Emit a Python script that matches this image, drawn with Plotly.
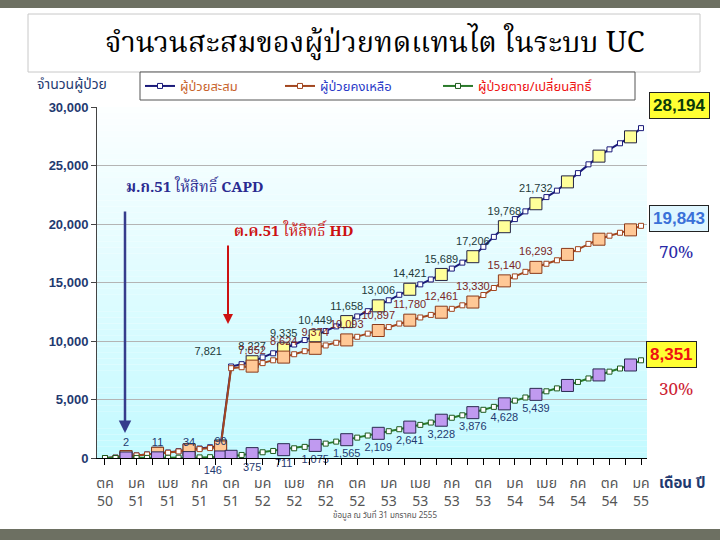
import plotly.graph_objects as go

# ---------------- data ----------------
months = list(range(52))  # ต.ค. 50 ... ม.ค. 55 (monthly)
tick_pos = [0, 3, 6, 9, 12, 15, 18, 21, 24, 27, 30, 33, 36, 39, 42, 45, 48, 51]
tick_labels = ["ตค<br>50", "มค<br>51", "เมย<br>51", "กค<br>51", "ตค<br>51", "มค<br>52",
               "เมย<br>52", "กค<br>52", "ตค<br>52", "มค<br>53", "เมย<br>53", "กค<br>53",
               "ตค<br>53", "มค<br>54", "เมย<br>54", "กค<br>54", "ตค<br>54", "มค<br>55"]

cumulative = [0, 30, 122, 225, 308, 411, 468, 586, 714, 810, 920, 1030,
              7821, 8020, 8227, 8600, 8950, 9335, 9700, 10080, 10449, 10850, 11250, 11658,
              12100, 12550, 13006, 13480, 13950, 14421, 14840, 15260, 15689, 16190, 16700, 17206,
              18050, 18900, 19768, 20420, 21080, 21732, 22300, 22850, 23600, 24350, 25100, 25800,
              26380, 26900, 27450, 28194]
remaining = [0, 30, 120, 220, 300, 400, 450, 560, 680, 760, 850, 940,
             7675, 7760, 7852, 8110, 8350, 8624, 8870, 9130, 9374, 9620, 9850, 10093,
             10360, 10630, 10897, 11190, 11490, 11780, 12010, 12230, 12461, 12750, 13050, 13330,
             13930, 14530, 15140, 15520, 15910, 16293, 16600, 16900, 17400, 17850, 18300, 18700,
             19000, 19250, 19500, 19843]
dead_changed = [0, 0, 2, 5, 8, 11, 18, 26, 34, 50, 70, 90,
                146, 260, 375, 490, 600, 711, 830, 950, 1075, 1230, 1400, 1565,
                1740, 1920, 2109, 2290, 2460, 2641, 2830, 3030, 3228, 3440, 3650, 3876,
                4120, 4370, 4628, 4900, 5170, 5439, 5700, 5950, 6200, 6500, 6800, 7100,
                7380, 7650, 7950, 8351]

quarter_idx = [2, 5, 8, 11, 14, 17, 20, 23, 26, 29, 32, 35, 38, 41, 44, 47, 50]
dead_big_idx = [2, 5, 8, 11, 12, 14, 17, 20, 23, 26, 29, 32, 35, 38, 41, 44, 47, 50]

cum_label_idx = [14, 17, 20, 23, 26, 29, 32, 35, 38, 41]
rem_label_idx = [14, 17, 20, 23, 26, 29, 32, 35, 38, 41]
dead_top_idx = [2, 5, 8, 11]
dead_bottom_idx = [14, 17, 20, 23, 26, 29, 32, 35, 38, 41]
cum_left_idx = [12]
dead_left_idx = [12]

names = ["ผู้ป่วยสะสม", "ผู้ป่วยคงเหลือ", "ผู้ป่วยตาย/เปลี่ยนสิทธิ์"]

# ---------------- styling ----------------
NAVY = "#1a1a7a"
BROWN = "#a2461f"
GREEN = "#2a7a2a"
THAI = "Noto Sans Thai, Tahoma, DejaVu Sans, sans-serif"
SERIF = "Noto Serif Thai, Liberation Serif, serif"
LBL = "Liberation Sans, Arial, sans-serif"

X0, X1, YT, YB = 97, 647, 107, 458


def px(xp):
    return (xp - X0) / (X1 - X0)


def py(yp):
    return (YB - yp) / (YB - YT)


fig = go.Figure()


def add_series(vals, big_idx, color, small_border, big_fill, big_border, name, legcolor, leg):
    fig.add_trace(go.Scatter(
        x=months, y=vals, mode="lines+markers", name=f"<span style='color:{legcolor}'>{name}</span>",
        line=dict(color=color, width=2), legend=leg,
        marker=dict(symbol="square", size=5, color="white", line=dict(color=small_border, width=1)),
        hoverinfo="skip"))
    fig.add_trace(go.Scatter(
        x=[months[i] for i in big_idx], y=[vals[i] for i in big_idx], mode="markers",
        showlegend=False,
        marker=dict(symbol="square", size=12, color=big_fill, line=dict(color=big_border, width=1)),
        hoverinfo="skip"))


def add_labels(vals, idx, pos, color):
    fig.add_trace(go.Scatter(
        x=[months[i] for i in idx], y=[vals[i] for i in idx], mode="markers+text",
        text=[f"{vals[i]:,}" for i in idx], textposition=pos, cliponaxis=False,
        textfont=dict(family=LBL, size=11, color=color),
        marker=dict(size=13, color="rgba(0,0,0,0)"), showlegend=False, hoverinfo="skip"))


add_series(cumulative, quarter_idx, NAVY, NAVY, "#ffff99", "#222244", names[0], "#c8642d", "legend")
add_series(remaining, quarter_idx, BROWN, BROWN, "#ffc896", "#8a3a1a", names[1], "#2a3ac8", "legend2")
add_series(dead_changed, dead_big_idx, GREEN, "#1f5a1f", "#c09af0", "#2a2a50", names[2], "#ee1111", "legend3")

add_labels(cumulative, cum_label_idx, "top center", "#1e3a3a")
add_labels(cumulative, cum_left_idx, "top left", "#1e3a3a")
add_labels(remaining, rem_label_idx, "top center", "#7a2626")
add_labels(dead_changed, dead_top_idx, "top center", "#1f3a70")
add_labels(dead_changed, dead_bottom_idx, "bottom center", "#1f3a70")
add_labels(dead_changed, dead_left_idx, "bottom left", "#1f3a70")

shapes = []
# gradient plot background
nb = 60
for k in range(nb):
    t = k / (nb - 1)
    r = int(252 - (252 - 196) * t)
    g = int(255 - (255 - 250) * t)
    b = 255
    shapes.append(dict(type="rect", xref="x domain", yref="y domain", x0=0, x1=1,
                       y0=1 - (k + 1) / nb, y1=1 - k / nb, line=dict(width=0),
                       fillcolor=f"rgb({r},{g},{b})", layer="below"))
# slide frame bars
shapes.append(dict(type="rect", xref="paper", yref="paper", x0=px(0), x1=px(720), y0=py(8), y1=py(0),
                   fillcolor="#6d7062", line=dict(width=0)))
shapes.append(dict(type="rect", xref="paper", yref="paper", x0=px(0), x1=px(720), y0=py(540), y1=py(529),
                   fillcolor="#6d7062", line=dict(width=0)))
# title box
shapes.append(dict(type="rect", xref="paper", yref="paper", x0=px(28), x1=px(700), y0=py(72), y1=py(14),
                   fillcolor="white", line=dict(color="#c8c8c8", width=1)))
# legend box
shapes.append(dict(type="rect", xref="paper", yref="paper", x0=px(140), x1=px(635), y0=py(100), y1=py(72),
                   fillcolor="white", line=dict(color="#555555", width=1)))

ann = []


def note(xp, yp, text, font, **kw):
    d = dict(x=px(xp), y=py(yp), xref="paper", yref="paper", showarrow=False,
             xanchor="center", yanchor="middle", text=text, font=font)
    d.update(kw)
    ann.append(d)


note(375, 44, "จำนวนสะสมของผู้ป่วยทดแทนไต ในระบบ UC", dict(family=SERIF, size=29, color="black"))
note(72, 85, "จำนวนผู้ป่วย", dict(family=THAI, size=14, color="#1f3a70"))
note(682, 483, "<b>เดือน ปี</b>", dict(family=THAI, size=15, color="#1f3a70"))
note(385, 515, "ข้อมูล ณ วันที่ 31 มกราคม 2555", dict(family=THAI, size=8, color="#555555"))
# right value boxes
note(679, 106, "<b>28,194</b>", dict(family=LBL, size=17, color="#0a3a0a"),
     bgcolor="#ffff33", bordercolor="#222222", borderwidth=1, borderpad=3)
note(679, 218, "<b>19,843</b>", dict(family=LBL, size=17, color="#3a70d8"),
     bgcolor="#dff6ff", bordercolor="#222222", borderwidth=1, borderpad=3)
note(676, 253, "70%", dict(family=SERIF, size=17, color="#2a2aa8"))
note(671, 354, "<b>8,351</b>", dict(family=LBL, size=17, color="#ee1111"),
     bgcolor="#ffff33", bordercolor="#222222", borderwidth=1, borderpad=3)
note(676, 390, "30%", dict(family=SERIF, size=17, color="#cc2233"))
# event annotations
note(195, 188, "<b>ม.ก.51</b> ให้สิทธิ์ <b>CAPD</b>", dict(family=SERIF, size=15, color="#2a2a90"))
ann.append(dict(x=px(125), y=py(433), xref="paper", yref="paper", ax=0, ay=-223, text="",
                showarrow=True, arrowhead=2, arrowsize=1, arrowwidth=2.5, arrowcolor="#363c8c"))
note(293, 232, "<b>ต.ค.51</b> ให้สิทธิ์ <b>HD</b>", dict(family=SERIF, size=15, color="#cc1111"))
ann.append(dict(x=px(228), y=py(324), xref="paper", yref="paper", ax=0, ay=-80, text="",
                showarrow=True, arrowhead=2, arrowsize=1, arrowwidth=2, arrowcolor="#cc1111"))


def leg(xp):
    return dict(orientation="h", x=px(xp), y=py(86), xanchor="left", yanchor="middle",
                bgcolor="rgba(0,0,0,0)", borderwidth=0, itemwidth=30,
                font=dict(family=THAI, size=13))


fig.update_layout(
    width=720, height=540,
    margin=dict(l=X0, r=720 - X1, t=YT, b=540 - YB, autoexpand=False),
    paper_bgcolor="white", plot_bgcolor="rgba(0,0,0,0)",
    shapes=shapes, annotations=ann,
    showlegend=True,
    legend=leg(140), legend2=leg(280), legend3=leg(438),
    xaxis=dict(range=[-0.76, 51.57], tickvals=tick_pos, ticktext=tick_labels, ticks="outside",
               ticklen=6, tickcolor="black", showline=True, linecolor="black", linewidth=1,
               showgrid=False, zeroline=False, tickfont=dict(family=THAI, size=14, color="#555555"),
               ticklabelstandoff=6,
               minor=dict(ticks="outside", ticklen=6, tick0=0, dtick=1.5, tickcolor="black", showgrid=False)),
    yaxis=dict(range=[0, 30000], tickvals=[0, 5000, 10000, 15000, 20000, 25000, 30000],
               tickformat=",", ticks="outside", ticklen=5, tickcolor="#444444", showline=True,
               linecolor="#444444", showgrid=True, gridcolor="#b4b4b4", zeroline=False,
               tickfont=dict(family=LBL, size=13, color="#1f3a70", weight="bold")),
)

fig.write_html("out.html", config={"displayModeBar": False},
               post_script="document.body.style.margin='0px';")
